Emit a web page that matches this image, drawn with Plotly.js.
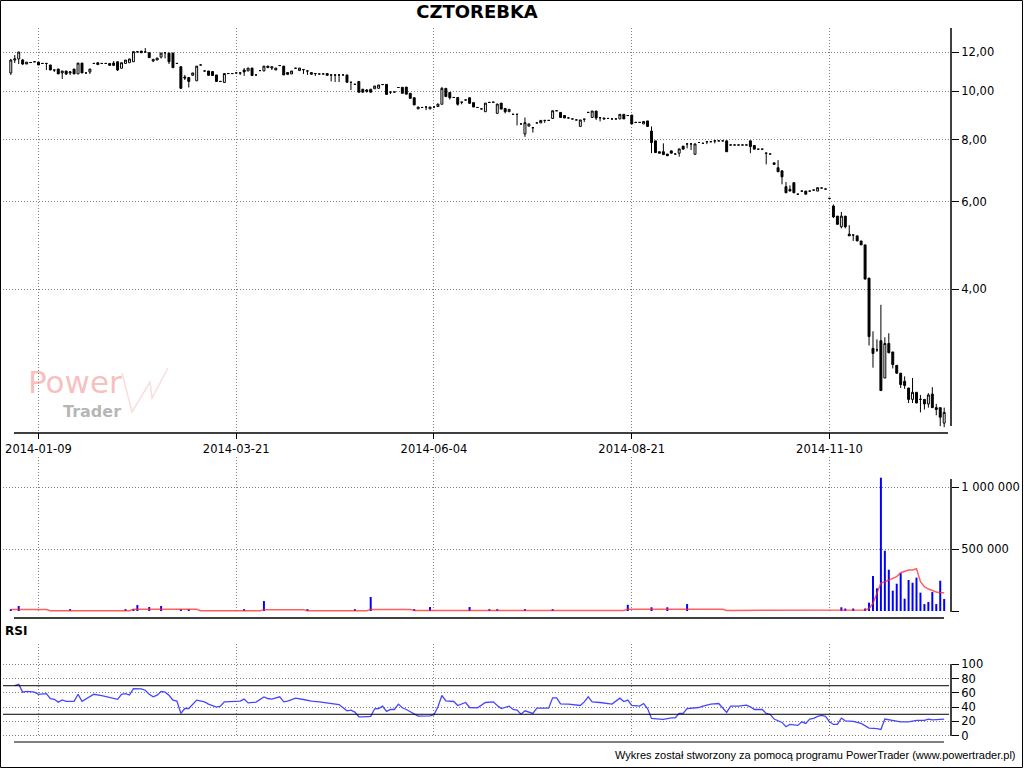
<!DOCTYPE html>
<html>
<head>
<meta charset="utf-8">
<script src="https://cdn.plot.ly/plotly-3.0.1.min.js"></script>
<style>
html,body{margin:0;padding:0;background:#fff;}
#chart{width:1024px;height:768px;}
</style>
</head>
<body>
<div id="chart"></div>
<script>
// ---------- DATA ----------
const chartTitle = 'CZTOREBKA';
const tickIdx = [7, 57, 107, 157, 207];
const tickLabels = ['2014-01-09', '2014-03-21', '2014-06-04', '2014-08-21', '2014-11-10'];

const openP = [
10.89,11.56,11.62,11.56,11.35,11.43,11.47,11.45,11.38,11.38,
11.30,11.04,11.09,10.89,10.99,10.89,11.09,10.84,11.40,10.89,
10.94,11.38,11.42,11.38,11.38,11.38,11.40,11.47,11.13,11.38,
11.42,11.47,12.02,12.05,12.00,11.96,11.51,11.56,11.72,11.96,
11.94,11.94,11.38,11.21,10.69,10.66,10.77,10.50,11.30,10.99,
10.99,10.96,10.79,10.47,10.42,10.86,10.86,10.89,10.89,11.04,
10.99,11.14,10.79,11.01,10.99,11.24,11.14,11.04,11.27,11.24,
10.91,10.84,11.13,11.01,11.06,10.99,10.82,10.86,10.84,10.84,
10.86,10.79,10.79,10.79,10.79,10.79,10.43,10.33,10.47,10.10,
10.06,10.10,10.12,10.14,10.32,10.33,9.97,9.97,10.18,10.19,
10.20,9.91,9.71,9.22,9.28,9.30,9.22,9.30,9.32,9.42,
10.14,9.95,9.72,9.72,9.51,9.61,9.71,9.49,9.28,9.22,
9.10,9.50,9.51,9.03,9.47,9.24,9.10,8.99,8.99,8.60,
8.21,8.51,8.45,8.64,8.64,8.74,8.74,8.82,9.14,9.07,
8.94,8.84,8.80,8.76,8.50,8.79,9.07,8.86,9.13,8.85,
8.84,8.82,8.80,8.80,8.80,8.99,8.94,8.96,8.66,8.66,
8.60,8.72,8.32,7.95,7.56,7.56,7.48,7.59,7.48,7.51,
7.76,7.84,7.84,7.47,7.89,7.86,7.92,7.92,7.95,7.95,
7.95,7.95,7.80,7.80,7.80,7.80,7.80,7.95,7.78,7.65,
7.65,7.51,7.48,7.18,7.02,6.92,6.43,6.35,6.55,6.21,
6.30,6.30,6.30,6.33,6.30,6.39,6.36,6.09,5.88,5.61,
5.34,5.61,5.16,5.14,5.12,5.00,4.91,4.21,3.04,3.02,
3.15,2.65,3.11,2.99,2.81,2.71,2.61,2.53,2.40,2.48,
2.40,2.40,2.35,2.46,2.31,2.31,2.15];

const highP = [
11.62,11.83,12.00,11.62,11.45,11.43,11.47,11.45,11.38,11.38,
11.30,11.04,11.09,10.99,10.99,10.99,11.09,11.40,11.40,10.89,
11.09,11.38,11.42,11.38,11.38,11.38,11.51,11.47,11.42,11.56,
11.62,12.02,12.02,12.05,12.22,11.96,11.60,11.67,11.94,11.96,
11.94,11.94,11.38,11.21,10.79,10.66,10.89,11.24,11.30,10.99,
10.99,10.96,10.79,10.47,10.86,10.86,10.86,10.89,10.89,11.14,
11.14,11.14,10.79,11.01,11.24,11.24,11.21,11.14,11.27,11.24,
10.91,10.99,11.13,11.14,11.06,10.99,10.91,10.86,10.84,10.84,
10.86,10.79,10.79,10.79,10.79,10.79,10.43,10.33,10.47,10.10,
10.11,10.10,10.25,10.30,10.32,10.33,9.97,9.97,10.18,10.19,
10.20,9.91,9.71,9.30,9.28,9.30,9.30,9.30,9.43,10.20,
10.14,9.95,9.72,9.72,9.51,9.61,9.71,9.49,9.28,9.22,
9.47,9.50,9.51,9.43,9.47,9.24,9.20,8.99,8.99,8.60,
8.86,8.60,8.45,8.64,8.74,8.74,8.74,9.14,9.14,9.07,
8.94,8.84,8.80,8.76,8.76,8.79,9.07,9.13,9.13,8.85,
8.84,8.82,8.80,8.80,8.99,8.99,8.94,8.96,8.66,8.66,
8.70,8.72,8.50,7.95,7.56,7.86,7.48,7.59,7.48,7.66,
7.76,7.84,7.84,7.84,7.89,7.86,7.92,7.92,7.95,7.95,
7.95,7.95,7.80,7.80,7.80,7.80,7.80,7.95,7.78,7.65,
7.65,7.51,7.48,7.18,7.27,6.92,6.57,6.47,6.55,6.21,
6.30,6.30,6.30,6.33,6.40,6.39,6.36,6.09,5.92,5.61,
5.72,5.61,5.38,5.14,5.12,5.00,4.91,4.21,3.29,3.17,
3.72,3.20,3.26,2.99,2.81,2.71,2.67,2.53,2.65,2.48,
2.45,2.40,2.47,2.54,2.35,2.31,2.31];

const lowP = [
10.79,11.40,11.35,11.30,11.35,11.43,11.47,11.30,11.38,11.04,
11.04,10.94,10.84,10.59,10.79,10.79,10.84,10.84,10.89,10.89,
10.84,11.38,11.32,11.38,11.38,11.28,11.24,10.99,11.13,11.38,
11.42,11.47,11.94,11.96,12.00,11.69,11.45,11.56,11.65,11.65,
11.35,11.16,11.38,10.14,10.54,10.18,10.77,10.50,11.30,10.99,
10.77,10.76,10.47,10.47,10.42,10.86,10.86,10.89,10.79,10.74,
10.99,10.76,10.79,11.01,10.99,11.16,11.04,11.04,11.27,10.79,
10.82,10.84,11.13,11.01,10.84,10.79,10.82,10.74,10.84,10.84,
10.77,10.47,10.44,10.44,10.79,10.43,10.06,10.33,9.96,9.96,
9.94,9.96,10.12,10.14,10.32,9.86,9.88,9.97,10.18,9.91,
9.87,9.68,9.39,9.22,9.28,9.17,9.22,9.30,9.32,9.42,
9.76,9.63,9.72,9.36,9.42,9.61,9.46,9.30,9.28,9.22,
9.10,9.50,9.51,9.03,9.21,9.03,9.10,8.99,8.54,8.60,
8.10,8.51,8.26,8.64,8.64,8.64,8.74,8.82,9.14,8.86,
8.84,8.84,8.80,8.76,8.50,8.68,9.07,8.86,8.76,8.70,
8.80,8.82,8.80,8.80,8.80,8.80,8.94,8.60,8.66,8.66,
8.60,8.50,7.51,7.53,7.51,7.46,7.42,7.51,7.48,7.39,
7.65,7.68,7.62,7.47,7.89,7.86,7.83,7.92,7.86,7.95,
7.95,7.56,7.80,7.80,7.80,7.80,7.80,7.51,7.65,7.65,
7.65,7.13,7.48,7.13,6.89,6.50,6.25,6.30,6.25,6.21,
6.30,6.21,6.30,6.33,6.30,6.39,6.36,6.09,5.56,5.40,
5.30,5.30,5.12,5.00,5.00,4.91,4.19,3.08,2.78,2.99,
2.50,2.65,2.97,2.77,2.70,2.53,2.52,2.36,2.36,2.36,
2.26,2.29,2.31,2.31,2.23,2.12,2.11];

const closeP = [
11.56,11.62,12.00,11.35,11.45,11.43,11.47,11.30,11.38,11.38,
11.04,11.04,10.84,10.99,10.84,10.94,10.84,11.40,10.89,10.89,
11.09,11.38,11.32,11.38,11.38,11.28,11.28,11.04,11.42,11.56,
11.62,12.02,12.02,11.96,12.00,11.69,11.60,11.67,11.94,11.96,
11.47,11.16,11.38,10.14,10.64,10.47,10.89,11.24,11.30,10.99,
10.77,10.76,10.47,10.47,10.86,10.86,10.86,10.89,10.89,10.94,
11.14,10.76,10.79,11.01,11.24,11.16,11.21,11.14,11.27,10.79,
10.82,10.99,11.13,11.14,11.06,10.99,10.91,10.86,10.84,10.84,
10.77,10.79,10.79,10.79,10.79,10.43,10.43,10.33,9.96,9.96,
10.00,9.96,10.25,10.30,10.32,9.86,9.97,9.97,10.18,9.91,
9.87,9.68,9.39,9.30,9.28,9.30,9.30,9.30,9.43,10.14,
9.76,9.71,9.72,9.42,9.51,9.61,9.46,9.30,9.28,9.22,
9.47,9.50,9.51,9.43,9.21,9.10,9.20,8.99,8.99,8.60,
8.65,8.60,8.45,8.64,8.74,8.74,8.74,9.14,9.14,8.86,
8.84,8.84,8.80,8.76,8.76,8.79,9.07,9.13,8.84,8.85,
8.80,8.82,8.80,8.80,8.99,8.80,8.94,8.60,8.66,8.66,
8.70,8.50,7.89,7.53,7.51,7.46,7.42,7.51,7.48,7.66,
7.65,7.84,7.84,7.84,7.89,7.86,7.92,7.92,7.95,7.95,
7.95,7.56,7.80,7.80,7.80,7.80,7.80,7.74,7.65,7.65,
7.65,7.51,7.48,7.13,6.89,6.73,6.25,6.30,6.25,6.21,
6.30,6.21,6.30,6.33,6.40,6.39,6.36,6.09,5.59,5.40,
5.61,5.34,5.12,5.14,5.00,4.91,4.19,3.21,2.97,3.02,
2.50,3.11,2.98,2.82,2.71,2.57,2.56,2.40,2.48,2.36,
2.40,2.35,2.45,2.31,2.29,2.21,2.26];

// visible volume bars (index of session, shares)
const volIdx = [0,2,15,29,31,32,35,38,43,45,59,64,75,87,91,102,106,116,121,123,
  130,137,156,162,166,171,210,211,213,216,217,218,219,220,221,222,223,224,225,226,
  227,228,229,230,231,232,233,234,235,236];
const volVal = [15000,40000,15000,15000,15000,48000,32000,40000,15000,15000,15000,80000,15000,15000,113000,15000,32000,32000,15000,15000,
  15000,15000,50000,30000,30000,56000,30000,20000,20000,20000,67000,282000,183000,1075000,486000,333000,164000,220000,306000,99000,
  250000,228000,269000,148000,56000,73000,153000,56000,244000,97000];

// volume moving average (red line)
const maIdx = [0,9,10,30,31,47,48,63,64,74,75,90,91,101,102,155,156,180,181,209,210,216,217,218,219,220,221,222,223,224,225,226,227,228,229,230,231,232,233,234,235,236];
const maVal = [12000,12000,3000,3000,14000,14000,3000,3000,11000,11000,3000,3000,13000,13000,4000,4000,14000,14000,4000,4000,6000,8000,20000,62000,143000,225000,236000,250000,258000,277000,309000,317000,331000,331000,341000,236000,196000,177000,164000,153000,148000,148000];

// RSI
const rsiIdx = [1,2,3,4,6,7,9,10,11,12,13,14,16,17,18,19,21,23,24,25,27,28,29,30,31,33,34,35,36,37,38,39,40,41,42,43,44,45,47,49,
  50,52,53,54,56,58,59,60,62,64,65,66,68,69,70,72,74,76,78,81,83,85,86,87,88,89,91,92,93,94,
  95,96,97,98,99,100,102,103,106,107,108,109,110,112,113,115,116,118,120,122,123,124,126,127,128,129,130,132,133,136,
  137,138,139,141,144,145,146,147,149,152,154,155,156,157,159,160,161,162,164,165,167,168,169,170,171,173,174,175,177,179,
  181,182,184,186,187,188,190,191,192,193,195,196,197,199,200,201,202,203,204,205,206,207,208,209,210,211,213,215,217,219,
  220,221,222,225,227,229,231,232,233,235,236];
const rsiVal = [70,72,61,62,61,58,59,52,51,47,50,48,48,58,48,51,58,56,55,53.5,51,58,59,57,66,65.6,63.7,58,54.4,56.7,62,61,56.7,49.8,48.4,31.2,38.1,38.1,49.8,47.4,
  44.2,40,41.4,47.4,48.4,48.4,51.2,46,47,54.4,52.1,51.2,54.4,47.4,48.4,52.6,50.7,48.4,47.4,45.1,43.7,34.9,35.8,33,26.5,26.5,27,37.7,38.1,41.4,
  34,36.7,36.7,44.2,39.1,36.7,31.2,27.4,27.9,29.3,40.5,56.3,48.8,47.9,42.3,46.5,39.5,39.1,46.5,47.4,42.3,38.1,41.4,36.7,35.8,30.2,34.9,31.2,38.6,38.6,
  53,53,44.7,44.2,42.3,47.4,54.4,47.4,46.5,44.2,52.6,47.9,49.8,42.3,41.4,45.1,38.1,24.2,23.3,22.8,25.1,25.1,31.2,31.2,38.1,38.6,39.5,41.4,44.2,45.1,
  32.6,41.4,41.4,42.8,40.5,36.7,36.7,31.2,29.8,23.3,18.6,12.6,15.8,14.4,19.5,17.2,23.3,24.2,27,28.4,27,19.5,15.8,15.8,24.7,20.9,20,17.2,10.7,9.8,
  8.8,23.3,22.3,19.5,19.5,21.4,21.4,23.3,22.3,22.3,23.3];

// ---------- LAYOUT HELPERS ----------
const W = 1024, H = 768;
const px = v => v / W;          // pixel x -> paper
const py = v => 1 - v / H;      // pixel y -> paper
const dayIdx = openP.map((_, i) => i);

const FONT = 'DejaVu Sans, Verdana, sans-serif';
const gridCol = '#808080';
const gridDash = '1px,2px';

const traces = [
  {
    type: 'candlestick', x: dayIdx, open: openP, high: highP, low: lowP, close: closeP,
    xaxis: 'x', yaxis: 'y',
    increasing: {line: {color: '#000000', width: 1}, fillcolor: '#ffffff'},
    decreasing: {line: {color: '#000000', width: 1}, fillcolor: '#000000'},
    whiskerwidth: 0, hoverinfo: 'skip', showlegend: false
  },
  {
    type: 'bar', x: volIdx, y: volVal, xaxis: 'x', yaxis: 'y2',
    marker: {color: '#0000ff', line: {width: 0}}, width: 0.5,
    hoverinfo: 'skip', showlegend: false
  },
  {
    type: 'scatter', mode: 'lines', x: maIdx, y: maVal, xaxis: 'x', yaxis: 'y2',
    line: {color: 'rgba(255,40,40,0.75)', width: 1.5},
    hoverinfo: 'skip', showlegend: false
  },
  {
    type: 'scatter', mode: 'lines', x: rsiIdx, y: rsiVal, xaxis: 'x', yaxis: 'y3',
    line: {color: '#4646ff', width: 1.3},
    hoverinfo: 'skip', showlegend: false
  }
];

const xLeft = 3, xRight = 951;
const i0px = 10.8, step = 3.955;
const xRange = [(xLeft - i0px) / step, (xRight - i0px) / step];

// log price scale: 12 at y=52, 497 px per decade
const logTop = Math.log10(12) + (52 - 28) / 497;
const logBot = Math.log10(12) - (432 - 52) / 497;

const axisCommon = {
  showline: false, zeroline: false, ticks: 'outside', tickcolor: '#000', tickwidth: 1,
  showgrid: true, gridcolor: gridCol, gridwidth: 1, griddash: gridDash,
  tickfont: {family: FONT, size: 11.5, color: '#000'}, fixedrange: true
};

const layout = {
  width: W, height: H,
  margin: {l: 0, r: 0, t: 0, b: 0},
  paper_bgcolor: '#ffffff', plot_bgcolor: '#ffffff',
  separators: ', ',
  hovermode: false,
  showlegend: false,
  title: {
    text: '<b>' + chartTitle + '</b>',
    x: px(477), xref: 'paper', xanchor: 'center',
    y: py(12), yref: 'paper', yanchor: 'middle',
    font: {family: FONT, size: 18, color: '#000'}
  },
  xaxis: Object.assign({}, axisCommon, {
    domain: [px(xLeft), px(xRight)], range: xRange, anchor: 'y',
    tickmode: 'array', tickvals: tickIdx, ticktext: tickLabels,
    ticklen: 6, rangeslider: {visible: false}
  }),
  yaxis: Object.assign({}, axisCommon, {
    domain: [py(432), py(28)], type: 'log', range: [logBot, logTop],
    side: 'right', anchor: 'x', tickmode: 'array', tickvals: [4, 6, 8, 10, 12],
    tickformat: '.2f', ticklen: 7
  }),
  yaxis2: Object.assign({}, axisCommon, {
    domain: [py(612), py(457)],
    range: [-(612 - 611) * 500000 / 62, (611 - 457) * 500000 / 62],
    side: 'right', anchor: 'x', tickmode: 'array',
    tickvals: [0, 500000, 1000000], ticktext: ['', '500 000', '1 000 000'], ticklen: 7
  }),
  yaxis3: Object.assign({}, axisCommon, {
    domain: [py(737), py(644)],
    range: [-(737 - 735.7) / 0.714, (735.7 - 644) / 0.714],
    side: 'right', anchor: 'x', tickmode: 'array',
    tickvals: [0, 20, 40, 60, 80, 100], ticklen: 7
  }),
  shapes: [
    // outer frame
    {type: 'rect', xref: 'paper', yref: 'paper', x0: px(0.5), x1: px(1022.5), y0: py(767.5), y1: py(0.5), line: {color: '#000', width: 1}},
    // price panel axes
    {type: 'line', xref: 'paper', yref: 'paper', x0: px(14), x1: px(948), y0: py(433), y1: py(433), line: {color: '#000', width: 1.5}},
    {type: 'line', xref: 'paper', yref: 'paper', x0: px(951), x1: px(951), y0: py(28), y1: py(426), line: {color: '#000', width: 1.5}},
    // volume panel axes
    {type: 'line', xref: 'paper', yref: 'paper', x0: px(951), x1: px(951), y0: py(479), y1: py(612), line: {color: '#000', width: 1.5}},
    {type: 'line', xref: 'paper', yref: 'paper', x0: px(14), x1: px(944), y0: py(618), y1: py(618), line: {color: '#000', width: 1.5}},
    // RSI panel
    {type: 'line', xref: 'paper', yref: 'paper', x0: px(951), x1: px(951), y0: py(664), y1: py(736), line: {color: '#000', width: 1.5}},
    {type: 'line', xref: 'paper', yref: 'y3', x0: px(3), x1: px(949), y0: 70, y1: 70, line: {color: '#000', width: 1}},
    {type: 'line', xref: 'paper', yref: 'y3', x0: px(3), x1: px(949), y0: 30, y1: 30, line: {color: '#000', width: 1}},
    {type: 'line', xref: 'paper', yref: 'paper', x0: px(14), x1: px(944), y0: py(742), y1: py(742), line: {color: '#000', width: 1}},
    // watermark swoosh
    {type: 'path', xref: 'paper', yref: 'paper', layer: 'below',
     path: `M ${px(122)} ${py(373)} L ${px(132)} ${py(412)} L ${px(150)} ${py(382)} L ${px(152)} ${py(398)} L ${px(168)} ${py(368)}`,
     line: {color: 'rgba(240,120,120,0.25)', width: 1.5}}
  ],
  annotations: [
    {text: '<b>RSI</b>', xref: 'paper', yref: 'paper', x: px(3), y: py(631), xanchor: 'left', yanchor: 'middle',
     showarrow: false, font: {family: FONT, size: 12, color: '#000'}},
    {text: 'Wykres został stworzony za pomocą programu PowerTrader (www.powertrader.pl)', xref: 'paper', yref: 'paper',
     x: px(1018), y: py(755), xanchor: 'right', yanchor: 'middle', showarrow: false,
     font: {family: 'Liberation Sans, Arial, sans-serif', size: 11, color: '#000'}},
    {text: 'Power', xref: 'paper', yref: 'paper', x: px(26), y: py(382), xanchor: 'left', yanchor: 'middle',
     showarrow: false, font: {family: FONT, size: 31, color: 'rgba(240,110,110,0.45)'}},
    {text: '<b>Trader</b>', xref: 'paper', yref: 'paper', x: px(61), y: py(411), xanchor: 'left', yanchor: 'middle',
     showarrow: false, font: {family: FONT, size: 16, color: 'rgba(150,150,150,0.7)'}}
  ]
};

Plotly.newPlot('chart', traces, layout, {staticPlot: true, displayModeBar: false});
</script>
</body>
</html>
